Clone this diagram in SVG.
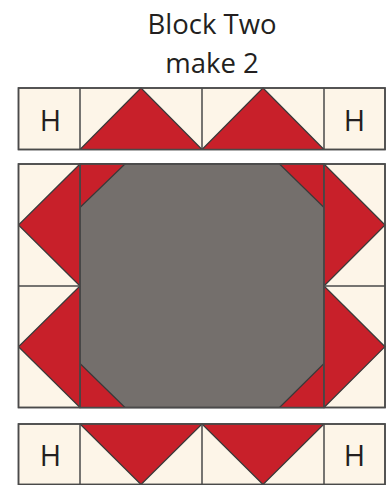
<svg xmlns="http://www.w3.org/2000/svg" width="388" height="485" viewBox="0 0 388 485">
<style>
.bg{fill:#FDF5E8;stroke:#4a4a4a;stroke-width:1.5}
.red{fill:#C8202A;stroke:#3a3a3a;stroke-width:1.2;stroke-linejoin:round}
.gray{fill:#746F6C;stroke:#4a4a4a;stroke-width:1.5}
.ln{fill:none;stroke:#4a4a4a;stroke-width:1.5}
.frame{fill:none;stroke:#4a4a4a;stroke-width:1.5}
.t{font-family:"Open Sans","Liberation Sans",sans-serif;fill:#231F20;text-anchor:middle}
.h{font-size:29px}
</style>
<rect width="388" height="485" fill="#ffffff"/>
<g id="title">
<text class="t" x="212" y="34" font-size="27.5">Block Two</text>
<text class="t" x="212" y="73" font-size="27.5">make 2</text>
</g>
<g id="top-row">
<rect class="bg" x="18.5" y="88" width="366.5" height="61.5"/>
<polygon class="red" points="80,149.5 141,88 202,149.5"/>
<polygon class="red" points="202,149.5 263,88 324,149.5"/>
<path class="ln" d="M80,88V149.5M202,88V149.5M324,88V149.5"/>
<rect class="frame" x="18.5" y="88" width="366.5" height="61.5"/>
<text class="t h" x="50.5" y="131">H</text>
<text class="t h" x="354.5" y="131">H</text>
</g>
<g id="middle-block">
<rect class="bg" x="18.5" y="164" width="366.5" height="243.5"/>
<rect class="gray" x="80" y="164" width="244" height="243.5"/>
<polygon class="red" points="80,164 125,164 80,207.5"/>
<polygon class="red" points="324,164 279.5,164 324,207.5"/>
<polygon class="red" points="80,407.5 125,407.5 80,363.5"/>
<polygon class="red" points="324,407.5 279.5,407.5 324,363.5"/>
<polygon class="red" points="80,164 18.5,225 80,286"/>
<polygon class="red" points="80,286 18.5,346.7 80,407.5"/>
<polygon class="red" points="324,164 385,225 324,286"/>
<polygon class="red" points="324,286 385,346.7 324,407.5"/>
<path class="ln" d="M18.5,286H80M324,286H385M80,164V407.5M324,164V407.5"/>
<rect class="frame" x="18.5" y="164" width="366.5" height="243.5"/>
</g>
<g id="bottom-row">
<rect class="bg" x="18.5" y="424" width="366.5" height="60.5"/>
<polygon class="red" points="80,424 141,484.5 202,424"/>
<polygon class="red" points="202,424 263,484.5 324,424"/>
<path class="ln" d="M80,424V484.5M202,424V484.5M324,424V484.5"/>
<rect class="frame" x="18.5" y="424" width="366.5" height="60.5"/>
<text class="t h" x="50.5" y="466">H</text>
<text class="t h" x="354.5" y="466">H</text>
</g>
</svg>
